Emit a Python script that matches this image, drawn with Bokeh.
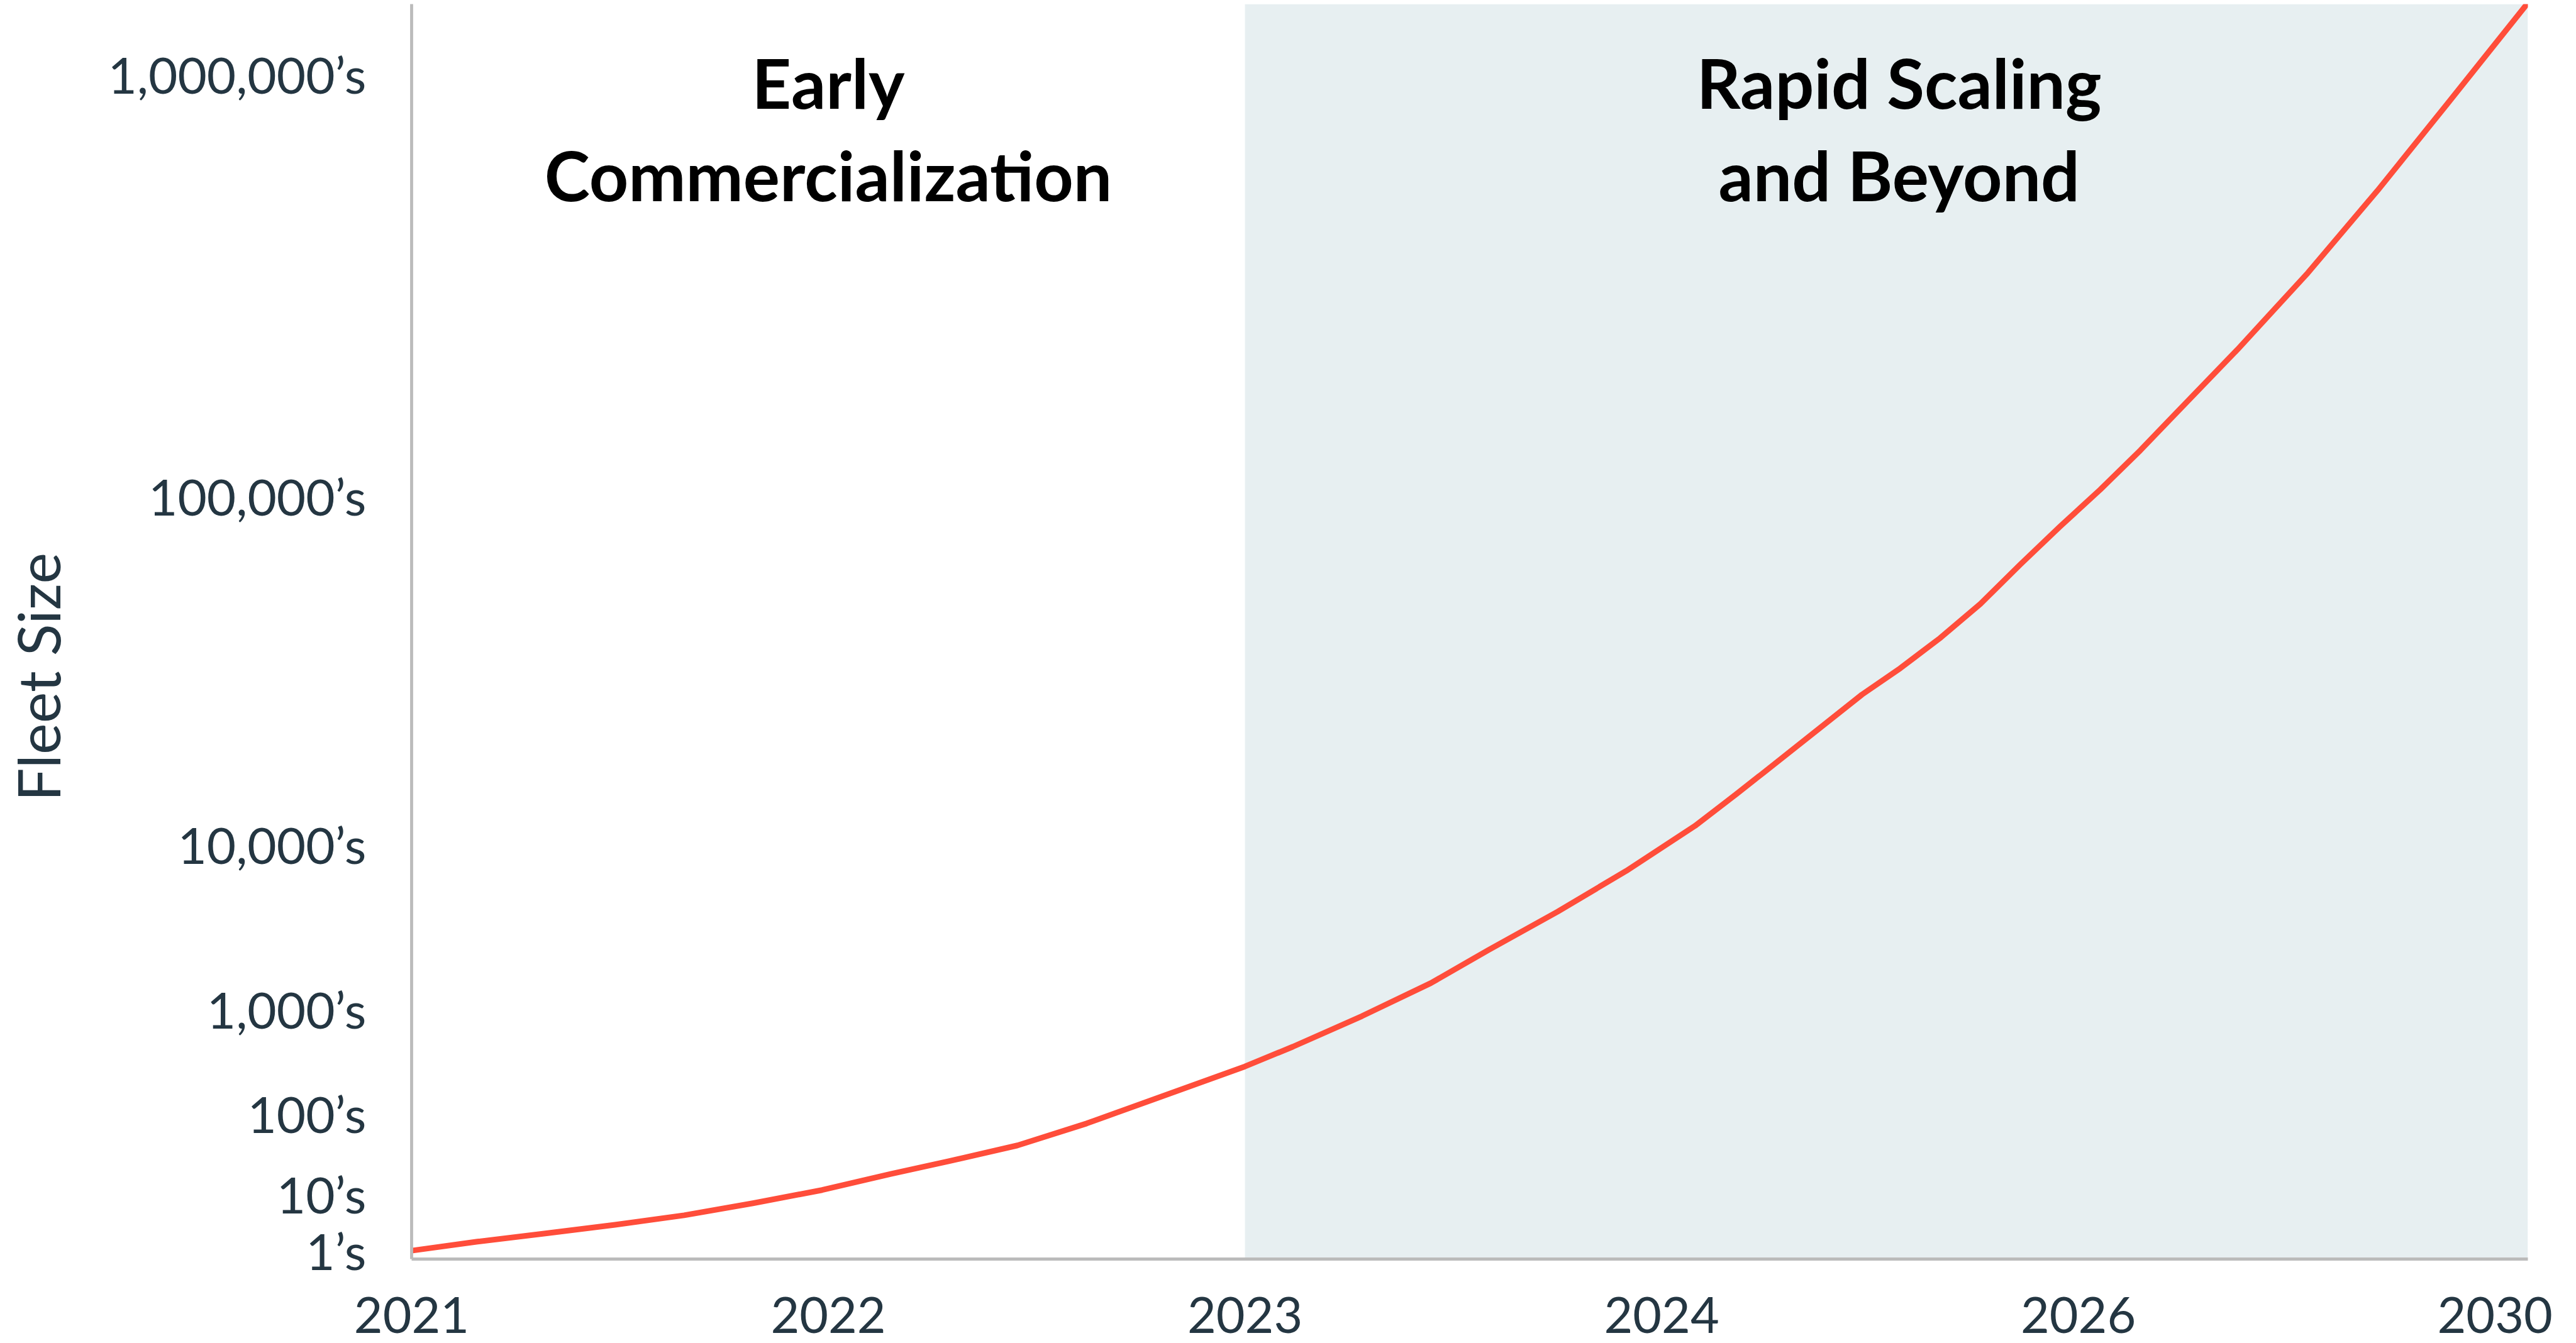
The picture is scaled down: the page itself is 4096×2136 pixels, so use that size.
import numpy as np
from bokeh.plotting import figure
from bokeh.models import Range1d, FixedTicker
from bokeh.core.properties import value
from bokeh.embed import file_html
from bokeh.resources import INLINE

# ---- axis definitions ----
years = ["2021", "2022", "2023", "2024", "2026", "2030"]
year_slot = [0, 1, 2, 3, 4, 5]

fleet_labels = ["1\u2019s", "10\u2019s", "100\u2019s", "1,000\u2019s", "10,000\u2019s",
                "100,000\u2019s", "1,000,000\u2019s"]
fleet_levels = [1, 10, 100, 1000, 10000, 100000, 1000000]
# where each level sits on the (non-uniform) vertical scale, as a fraction of axis height
level_pos = [0.0067, 0.0521, 0.1162, 0.1991, 0.3303, 0.6078, 0.9441]

# ---- series ----
slot = [0.0, 0.158, 0.324, 0.488, 0.654, 0.819, 0.985, 1.150, 1.289, 1.454, 1.620,
        1.784, 2.0, 2.115, 2.281, 2.446, 2.584, 2.750, 2.915, 3.080, 3.179, 3.245,
        3.481, 3.573, 3.668, 3.765, 3.861, 3.956, 4.053, 4.149, 4.215, 4.382,
        4.551, 4.718, 4.886, 5.079]
fleet = [1, 1.44, 2.02, 2.84, 4.18, 6.79, 11.1, 17.6, 25.3, 39.8, 74.6,
         137.5, 281.6, 436, 859, 1440, 2285, 3908, 6917, 11310, 13950, 16100,
         26960, 32100, 39140, 49080, 63760, 81850, 103800, 128500, 150300, 222700,
         338400, 529900, 851700, 1476000]

phase_lines = [["Early", "Commercialization"], ["Rapid Scaling", "and Beyond"]]
phase_start = [0, 2]
phase_center = [1.0, 3.57]
title_baseline = [0.938, 0.864]

axis_title = "Fleet Size"

# ---- scale mapping (piecewise on log10 levels, linear extrapolation above) ----
lv = np.log10(fleet_levels)
lp = np.array(level_pos)


def to_pos(v):
    L = np.log10(np.asarray(v, dtype=float))
    out = np.interp(L, lv, lp)
    hi = L > lv[-1]
    out[hi] = lp[-1] + (L[hi] - lv[-1]) * (lp[-1] - lp[-2]) / (lv[-1] - lv[-2])
    return out


ypos = to_pos(fleet)
x_end = slot[-1]

p = figure(width=4096, height=2136, output_backend="svg", toolbar_location=None,
           x_range=Range1d(0, x_end), y_range=Range1d(0, 1),
           min_border_left=654, min_border_right=77, min_border_top=6, min_border_bottom=134)
p.background_fill_color = "white"
p.border_fill_color = "white"
p.outline_line_color = None
p.grid.visible = False

# shaded phase
p.quad(left=[phase_start[1]], right=[x_end], bottom=[0], top=[1],
       fill_color="#E7EFF1", line_color=None)

# series line
p.line(slot, ypos, line_width=9, line_color="#FF4D3A", line_join="round", line_cap="round")

# phase titles
tx, ty, tt = [], [], []
for c, lines in zip(phase_center, phase_lines):
    for b, s in zip(title_baseline, lines):
        tx.append(c); ty.append(b); tt.append(s)
p.text(x=tx, y=ty, text=tt, text_font=value("Lato"), text_font_style="bold",
       text_font_size="109px", text_align="center", text_baseline="alphabetic",
       text_color="#000000")

label_color = "#243642"
axis_color = "#BBBBBB"

xa = p.xaxis[0]
xa.ticker = FixedTicker(ticks=year_slot)
xa.major_label_overrides = {s: y for s, y in zip(year_slot, years)}
xa.major_label_text_font = "Lato"
xa.major_label_text_font_size = "79px"
xa.major_label_text_color = label_color
xa.major_label_standoff = 60
xa.major_tick_line_color = None
xa.minor_tick_line_color = None
xa.major_tick_out = 0
xa.axis_line_color = axis_color
xa.axis_line_width = 4.8

ya = p.yaxis[0]
ya.ticker = FixedTicker(ticks=level_pos)
ya.major_label_overrides = {pv: l for pv, l in zip(level_pos, fleet_labels)}
ya.major_label_text_font = "Lato"
ya.major_label_text_font_size = "80px"
ya.major_label_text_color = label_color
ya.major_label_standoff = 72
ya.major_tick_line_color = None
ya.minor_tick_line_color = None
ya.major_tick_out = 0
ya.axis_line_color = axis_color
ya.axis_line_width = 4.8
# trailing no-break spaces push the (centred) title slightly below the middle
ya.axis_label = axis_title + "\u00a0" * 6
ya.axis_label_text_font = "Lato"
ya.axis_label_text_font_style = "normal"
ya.axis_label_text_font_size = "94px"
ya.axis_label_text_color = label_color
ya.axis_label_standoff = 52

open("out.html", "w").write(file_html(p, INLINE))
